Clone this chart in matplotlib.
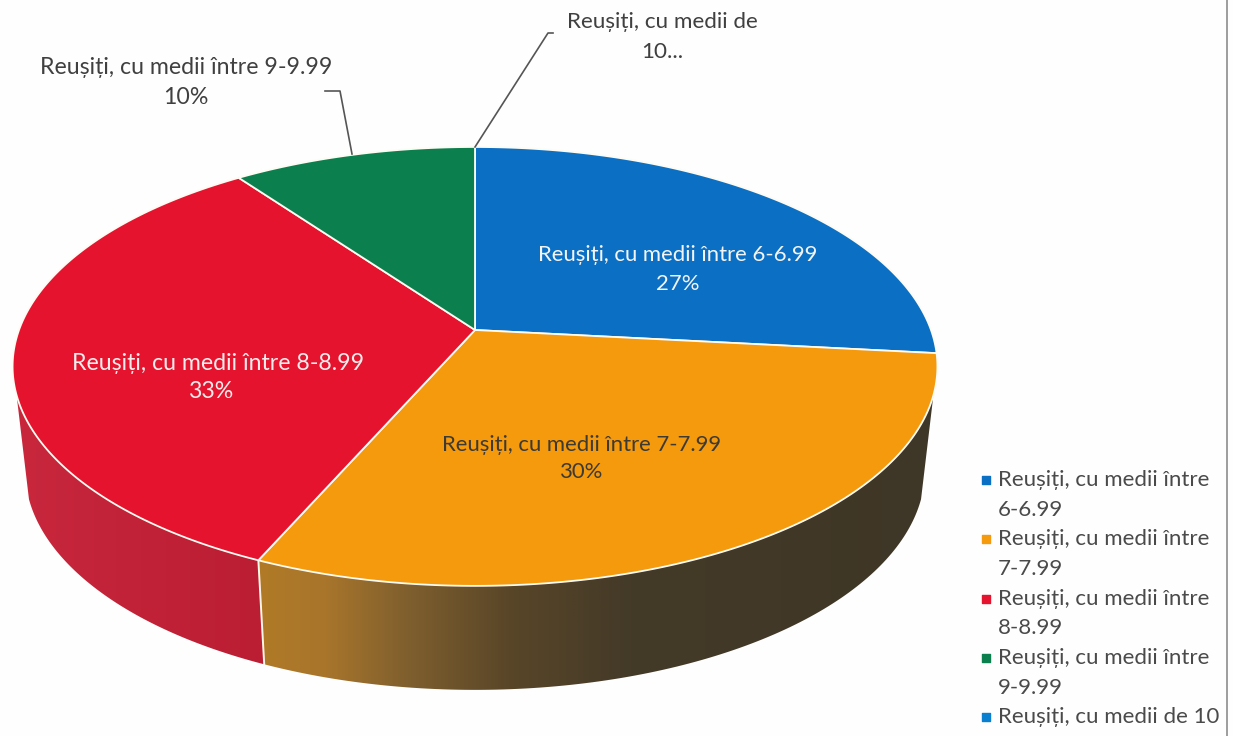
from matplotlib import pyplot as plt
from matplotlib.colors import LinearSegmentedColormap
from matplotlib.patches import Polygon
import numpy as np

plt.rcParams['font.family'] = ['Lato', 'DejaVu Sans']

categories = ["Reușiți, cu medii între 6-6.99", "Reușiți, cu medii între 7-7.99",
              "Reușiți, cu medii între 8-8.99", "Reușiți, cu medii între 9-9.99",
              "Reușiți, cu medii de 10"]
values = [26.7, 29.9, 33.4, 10, 0]
slice_colors = ["#0b6fc4", "#f5990d", "#e6132e", "#0c7f4f", "#0b7fcf"]
legend_lines = [("Reușiți, cu medii între", "6-6.99"), ("Reușiți, cu medii între", "7-7.99"),
                ("Reușiți, cu medii între", "8-8.99"), ("Reușiți, cu medii între", "9-9.99"),
                ("Reușiți, cu medii de 10", "")]

# view of the tilted disc, in pixels
CX, CY, RX, RY, P = 475, 330, 456, 213.4, 0.166
DEPTH, SHRINK = 104, 0.973
SIDE_START, SIDE_END = 29.7, 70.3  # percent of the circle where the rim is visible


def top(pct):
    # perspective projection of a point on the rim, clockwise from 12 o'clock
    t = np.radians(np.asarray(pct) * 3.6)
    u, v = np.sin(t), np.cos(t)
    return CX + RX * u / (1 + P * v), CY - RY * v / (1 + P * v)


def side_poly(p0, p1):
    pct = np.linspace(p0, p1, 120)
    x, y = top(pct)
    xb = CX + SHRINK * (x - CX)
    yb = y + DEPTH
    return np.column_stack([np.r_[x, xb[::-1]], np.r_[y, yb[::-1]]])


fig = plt.figure(figsize=(12.33, 7.36), dpi=100, facecolor="#fefefe")
ax = fig.add_axes([0, 0, 1, 1])
ax.set_xlim(0, 1233)
ax.set_ylim(736, 0)
ax.axis("off")

edges = np.cumsum([0] + values)

# side walls with gradient shading, left to right
orange_cmap = LinearSegmentedColormap.from_list("o", [(0, "#b07a26"), (0.1, "#a8752b"), (0.22, "#7f5f2e"),
                                                      (0.37, "#594628"), (0.55, "#443a28"), (1, "#3e3626")])
red_cmap = LinearSegmentedColormap.from_list("r", ["#c8273c", "#bb1d33"])
walls = [(edges[1], edges[2], orange_cmap, SIDE_START, False), (edges[2], edges[3], red_cmap, SIDE_END, True)]
for a, b, cmap, limit, left in walls:
    p0, p1 = (a, limit) if left else (limit, b)
    pts = side_poly(p0, p1)
    grad = np.linspace(0, 1, 256).reshape(1, -1)
    x0, x1 = pts[:, 0].min(), pts[:, 0].max()
    y0, y1 = pts[:, 1].min(), pts[:, 1].max()
    im = ax.imshow(grad, cmap=cmap, extent=[x0, x1, y1, y0], aspect="auto", zorder=1)
    im.set_clip_path(Polygon(pts, transform=ax.transData))
ax.set_xlim(0, 1233)
ax.set_ylim(736, 0)

# white seam down the wall
seam = side_poly(edges[2], edges[2])
ax.plot([seam[0, 0], seam[-1, 0]], [seam[0, 1], seam[-1, 1]], color="#fff8e8", lw=1.4, zorder=2)

# top face
for i, val in enumerate(values):
    if val == 0:
        continue
    x, y = top(np.linspace(edges[i], edges[i + 1], 150))
    ax.add_patch(Polygon(np.column_stack([np.r_[CX, x], np.r_[CY, y]]), closed=True,
                         facecolor=slice_colors[i], edgecolor="#fdfbf2", lw=1.3, zorder=3))

# slice labels
labels = [(678, 678, 255, 284, "#f4f4f4", 0, 15.9), (218, 211, 363, 391, "#f6ecec", 2, 16.7),
          (582, 582, 445, 472, "#3c3a33", 1, 15.9)]
for x1, x2, y1, y2, col, i, fs in labels:
    ax.text(x1, y1, categories[i], ha="center", va="center", color=col, fontsize=fs, zorder=5)
    ax.text(x2, y2, f"{round(values[i])}%", ha="center", va="center", color=col, fontsize=fs, zorder=5)

ax.text(186, 67, categories[3], ha="center", va="center", color="#404040", fontsize=16.7)
ax.text(186, 97, f"{values[3]}%", ha="center", va="center", color="#404040", fontsize=16.7)
ax.text(662, 22, "Reușiți, cu medii de", ha="center", va="center", color="#404040", fontsize=16.2)
ax.text(662, 52, "10...", ha="center", va="center", color="#404040", fontsize=16.2)

# leader lines
ax.plot([352, 340, 325], [154, 91, 91], color="#555555", lw=1.2, zorder=4)
x_tip, y_tip = top(edges[4])
ax.plot([x_tip, 548, 553], [y_tip, 33, 33], color="#555555", lw=1.2, zorder=4)

# legend
y = 480
for i, (l1, l2) in enumerate(legend_lines):
    ax.scatter([986], [y], marker="s", s=32, color=slice_colors[i], zorder=5)
    ax.text(998, y, l1, ha="left", va="center", color="#4a4a4a", fontsize=16)
    if l2:
        ax.text(998, y + 29.7, l2, ha="left", va="center", color="#4a4a4a", fontsize=16)
    y += 59.3

# scan edge on the right
ax.plot([1227, 1227], [0, 736], color="#8c8c8c", lw=1.2)

fig.savefig("out.png", dpi=100, facecolor=fig.get_facecolor())
